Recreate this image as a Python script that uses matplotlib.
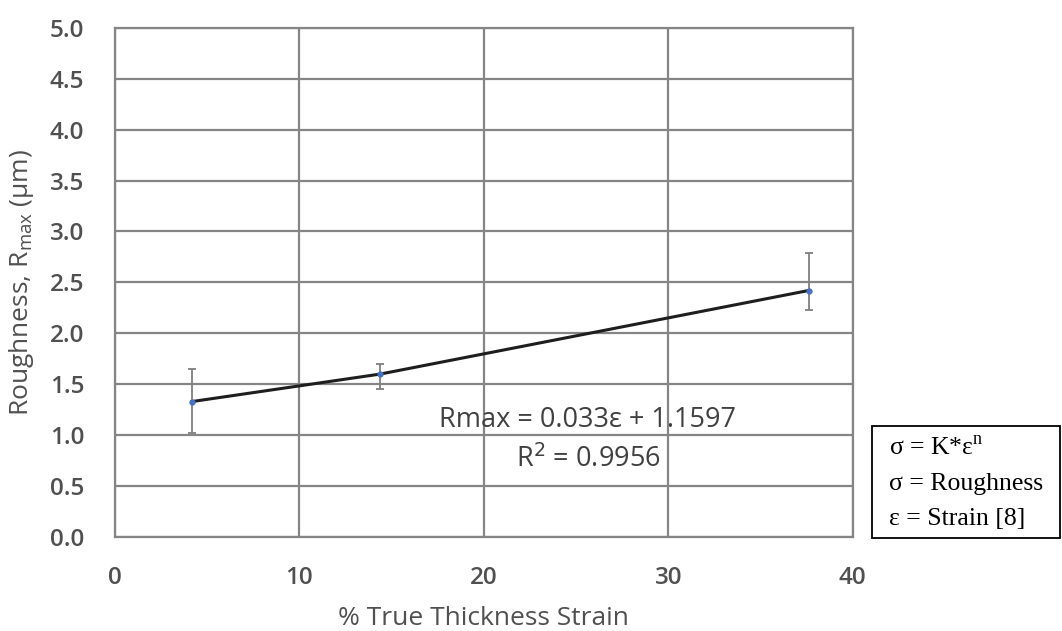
import matplotlib
matplotlib.use("Agg")
from matplotlib import pyplot
from matplotlib.patches import Rectangle

# data
strain=[4.2, 14.4, 37.6]
rmax=[1.33, 1.60, 2.42]
err_low=[0.31, 0.15, 0.19]
err_high=[0.32, 0.10, 0.37]
xticks=[0, 10, 20, 30, 40]
yticks=[0.0, 0.5, 1.0, 1.5, 2.0, 2.5, 3.0, 3.5, 4.0, 4.5, 5.0]
equation="Rmax = 0.033\u03b5 + 1.1597"
r2="R$^2$ = 0.9956"
box_lines=["\u03c3 = K*\u03b5$^\\mathregular{n}$", "\u03c3 = Roughness", "\u03b5 = Strain [8]"]

textcol="#505050"
gridcol="#858585"

pyplot.rcParams["font.family"]=["Open Sans", "DejaVu Sans"]

fig=pyplot.figure(figsize=(10.62,6.31), dpi=100)
ax=fig.add_axes([0.108, 0.149, 0.695, 0.807])

ax.plot(strain, rmax, "-", c="#1e1e1e", lw=2.2, zorder=5)
ax.errorbar(strain, rmax, yerr=[err_low, err_high], fmt="none",
            ecolor="#7f7f7f", elinewidth=1.3, capsize=3, capthick=1.3, zorder=4)
ax.plot(strain, rmax, "o", c="#4472c4", ms=3.5, zorder=6)

ax.set_xlim(0,40)
ax.set_ylim(0,5)
ax.set_xticks(xticks)
ax.set_yticks(yticks)
ax.set_yticklabels([f"{v:.1f}" for v in yticks])
ax.grid(True, color=gridcol, lw=1.6)
ax.set_axisbelow(True)
for s in ax.spines.values():
    s.set_color(gridcol)
    s.set_linewidth(1.6)
ax.tick_params(length=0, labelsize=17.5, labelcolor=textcol)
for lab in ax.get_xticklabels()+ax.get_yticklabels():
    lab.set_fontweight("semibold")
ax.tick_params(axis="x", pad=21)
ax.tick_params(axis="y", pad=22)

ax.set_xlabel("% True Thickness Strain", fontsize=19, color=textcol)
ax.set_ylabel("Roughness, R$_{\\mathregular{max}}$ (\u03bcm)", fontsize=19, color=textcol)
ax.xaxis.set_label_coords(0.5, -0.135)
ax.yaxis.set_label_coords(-0.106, 0.5)

ax.text(25.65, 1.15, equation, fontsize=19.5, color="#404040", ha="center", va="center")
ax.text(25.65, 0.76, r2, fontsize=19.5, color="#404040", ha="center", va="center")

# annotation box on the right
fig.patches.append(Rectangle((0.821, 0.147), 0.177, 0.178, transform=fig.transFigure,
                             fill=False, ec="black", lw=1.3))
for i, t in enumerate(box_lines):
    fig.text(0.837, 0.289-i*0.056, t, fontsize=18.5, family=["Liberation Serif", "DejaVu Serif"],
             color="black", va="center", ha="left")

fig.savefig("out.png", dpi=100)
